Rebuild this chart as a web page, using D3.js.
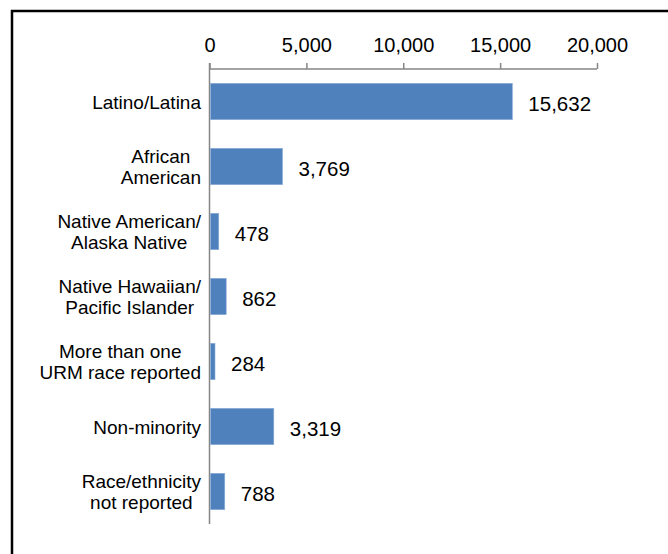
<!DOCTYPE html>
<html>
<head>
<meta charset="utf-8">
<script src="https://cdn.jsdelivr.net/npm/d3@7"></script>
<style>
  body { margin: 0; background: #fff; }
  svg { display: block; font-family: "Liberation Sans", Arial, sans-serif; }
</style>
</head>
<body>
<svg id="chart" width="668" height="554"></svg>
<script>
// data
const categories = [
  ["Latino/Latina"],
  ["African", "American"],
  ["Native American/", "Alaska Native"],
  ["Native Hawaiian/", "Pacific Islander"],
  ["More than one", "URM race reported"],
  ["Non-minority"],
  ["Race/ethnicity", "not reported"]
];
const counts = [15632, 3769, 478, 862, 284, 3319, 788];
const tickValues = [0, 5000, 10000, 15000, 20000];

const svg = d3.select("#chart");

// outer frame (runs off the right and bottom edges)
svg.append("path")
  .attr("d", "M12,560 V11 H680")
  .attr("fill", "none")
  .attr("stroke", "#000")
  .attr("stroke-width", 2.5);

const x = d3.scaleLinear().domain([0, 20000]).range([209.5, 597]);
const y = d3.scaleBand()
  .domain(d3.range(categories.length))
  .range([69, 524])
  .paddingInner(0.44)
  .paddingOuter(0.22);

const axisColor = "#868686";

// value axis on top
const xAxis = svg.append("g")
  .attr("transform", "translate(0,69)")
  .call(d3.axisTop(x).tickValues(tickValues).tickSize(6).tickPadding(11)
    .tickFormat(d3.format(",")));
xAxis.select(".domain").attr("stroke", axisColor).attr("stroke-width", 1.5)
  .attr("d", `M${x(0)},0H${x(20000)}`);
xAxis.selectAll(".tick line").attr("stroke", axisColor).attr("stroke-width", 1.5);
xAxis.selectAll(".tick text")
  .attr("fill", "#000")
  .style("font-size", "20px")
  .style("font-family", "'Liberation Sans', Arial, sans-serif");

// category axis line
svg.append("line")
  .attr("x1", x(0)).attr("x2", x(0))
  .attr("y1", 63).attr("y2", 524)
  .attr("stroke", axisColor)
  .attr("stroke-width", 1.5);

// bars
svg.selectAll("rect.bar")
  .data(counts)
  .enter().append("rect")
    .attr("class", "bar")
    .attr("x", x(0) + 1)
    .attr("y", (d, i) => y(i))
    .attr("width", d => x(d) - x(0) - 1)
    .attr("height", y.bandwidth())
    .attr("fill", "#4f81bd")
    .attr("stroke", "#8eb0db")
    .attr("stroke-width", 0.6);

// value labels
svg.selectAll("text.val")
  .data(counts)
  .enter().append("text")
    .attr("class", "val")
    .attr("x", d => x(d) + 16)
    .attr("y", (d, i) => y(i) + y.bandwidth() / 2 + 9)
    .style("font-size", "20.5px")
    .attr("fill", "#000")
    .text(d => d3.format(",")(d));

// category labels: lines centred on each other, widest line flush at right
const labelRight = 201;
const lineGap = 21;
categories.forEach((lines, i) => {
  const cy = y(i) + y.bandwidth() / 2;
  const t = svg.append("text")
    .style("font-size", "19px")
    .attr("fill", "#000")
    .attr("text-anchor", "middle");
  const spans = lines.map((ln, k) => t.append("tspan")
    .attr("y", cy + 7 + (k - (lines.length - 1) / 2) * lineGap)
    .text(ln));
  const w = d3.max(spans, s => s.node().getComputedTextLength());
  spans.forEach(s => s.attr("x", labelRight - w / 2));
});
</script>
</body>
</html>
